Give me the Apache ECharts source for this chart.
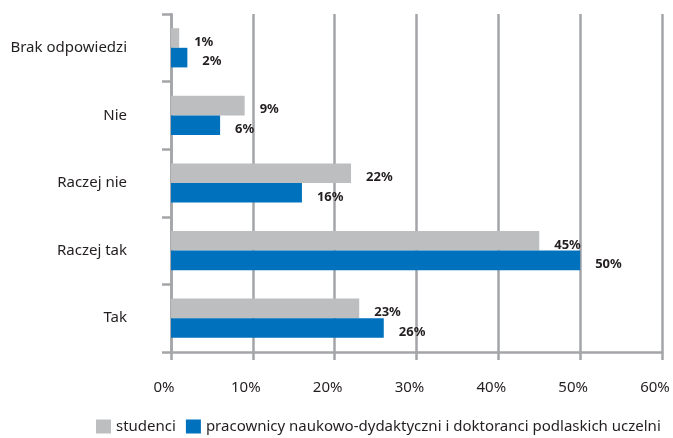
<!DOCTYPE html>
<html>
<head>
<meta charset="utf-8">
<script src="https://cdn.jsdelivr.net/npm/echarts@6/dist/echarts.min.js"></script>
<style>
html,body{margin:0;padding:0;background:#fff;}
#main{width:673px;height:438px;}
</style>
</head>
<body>
<div id="main"></div>
<script>
const categories = ['Brak odpowiedzi', 'Nie', 'Raczej nie', 'Raczej tak', 'Tak'];
const studenci = [1, 9, 22, 45, 23];
const pracownicy = [2, 6, 16, 50, 26];
const seriesNames = ['studenci', 'pracownicy naukowo-dydaktyczni i doktoranci podlaskich uczelni'];
const xTicks = [0, 10, 20, 30, 40, 50, 60];

const FONT = 'Noto Sans';
const chart = echarts.init(document.getElementById('main'));
const labelStyle = {
  show: true,
  position: 'right',
  distance: 15,
  offset: [0, 4],
  formatter: '{c}%',
  fontFamily: FONT,
  fontSize: 13,
  fontWeight: 'bold',
  color: '#231f20'
};
chart.setOption({
  animation: false,
  textStyle: { fontFamily: FONT },
  grid: { left: 171, right: 11, top: 14, bottom: 86, containLabel: false },
  legend: {
    left: 91, top: 414,
    itemWidth: 15, itemHeight: 14, itemGap: 10,
    icon: 'rect',
    textStyle: { fontFamily: FONT, fontSize: 15, color: '#231f20' },
    data: seriesNames
  },
  xAxis: {
    type: 'value',
    min: xTicks[0], max: xTicks[xTicks.length - 1], interval: 10,
    axisLine: { show: true, lineStyle: { color: '#a3a5a8', width: 2.5 } },
    axisTick: { show: true, length: 8, lineStyle: { color: '#a3a5a8', width: 2.5 } },
    splitLine: { show: true, lineStyle: { color: '#a3a5a8', width: 2.5 } },
    axisLabel: {
      formatter: '{value}%', margin: 28, padding: [0, 14, 0, 0],
      fontFamily: FONT, fontSize: 15, color: '#231f20'
    }
  },
  yAxis: {
    type: 'category',
    inverse: true,
    data: categories,
    axisLine: { show: true, lineStyle: { color: '#a3a5a8', width: 2.5 } },
    axisTick: { show: true, length: 9, interval: 0, lineStyle: { color: '#a3a5a8', width: 2.5 } },
    axisLabel: { margin: 44, fontFamily: FONT, fontSize: 15, color: '#231f20' }
  },
  series: [
    {
      name: seriesNames[0], type: 'bar', data: studenci,
      barGap: '0%', barCategoryGap: '42%',
      itemStyle: { color: '#bcbec0' },
      label: labelStyle
    },
    {
      name: seriesNames[1], type: 'bar', data: pracownicy,
      barGap: '0%', barCategoryGap: '42%',
      itemStyle: { color: '#0071bc' },
      label: labelStyle
    }
  ]
});
</script>
</body>
</html>
